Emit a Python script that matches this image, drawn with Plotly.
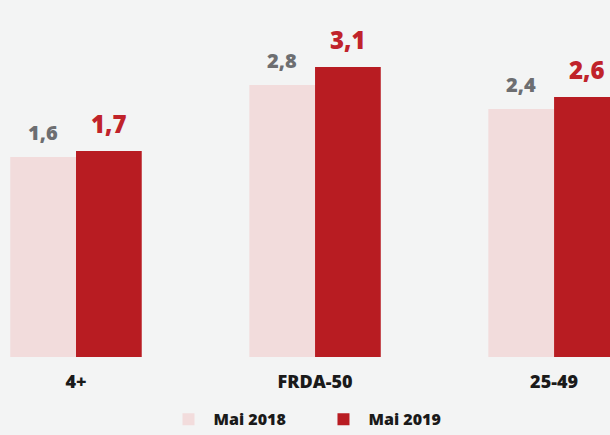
import plotly.graph_objects as go

categories = ["4+", "FRDA-50", "25-49"]
series_names = ["Mai 2018", "Mai 2019"]
values_2018 = [1.6, 2.8, 2.4]
values_2019 = [1.7, 3.1, 2.6]

BASE = -1.74  # visual baseline of the original graphic
pale = "#f2dcdc"
red = "#b81c22"
grey_txt = "#6d6e71"
red_txt = "#c0232a"
FONT = "Open Sans"

fig = go.Figure()
fig.add_trace(go.Bar(
    name=series_names[0], x=categories, y=[v - BASE for v in values_2018], base=BASE,
    marker=dict(color=pale, line=dict(width=0)), hoverinfo="skip"))
fig.add_trace(go.Bar(
    name=series_names[1], x=categories, y=[v - BASE for v in values_2019], base=BASE,
    marker=dict(color=red, line=dict(width=0)), hoverinfo="skip"))

ann = []
for i, c in enumerate(categories):
    ann.append(dict(x=c, y=values_2018[i], xref="x", yref="y", xshift=-33, yshift=9,
                    text=f"{values_2018[i]:.1f}".replace(".", ","), showarrow=False,
                    yanchor="bottom", font=dict(family=FONT, size=20, color=grey_txt, weight=800)))
    ann.append(dict(x=c, y=values_2019[i], xref="x", yref="y", xshift=33, yshift=9,
                    text=f"{values_2019[i]:.1f}".replace(".", ","), showarrow=False,
                    yanchor="bottom", font=dict(family=FONT, size=24, color=red_txt, weight=800)))

fig.update_layout(
    width=610, height=435,
    margin=dict(l=0, r=0, t=0, b=78),
    paper_bgcolor="#f3f4f4", plot_bgcolor="#f3f4f4",
    barmode="group", bargap=0.45, bargroupgap=0,
    annotations=ann,
    showlegend=True,
    legend=dict(orientation="h", x=0.268, xanchor="left", yref="container", y=0.036,
                yanchor="middle",
                font=dict(family=FONT, size=16, color="#1a1a1a", weight=800),
                itemwidth=40, entrywidth=100, traceorder="normal",
                bgcolor="rgba(0,0,0,0)"),
    xaxis=dict(range=[-0.318, 2.234], showgrid=False, zeroline=False, showline=False,
               ticks="", ticklabelstandoff=12, automargin=False,
               tickfont=dict(family=FONT, size=18, color="#1a1a1a", weight=800)),
    yaxis=dict(range=[BASE, 4.22], visible=False, showgrid=False, zeroline=False,
               automargin=False),
)
fig.write_html("out.html", config={"displayModeBar": False},
               post_script="document.body.style.margin='0';document.body.style.overflow='hidden';")
